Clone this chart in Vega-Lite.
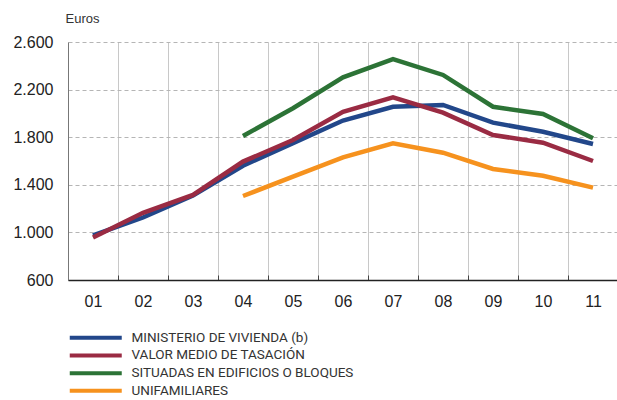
{
  "$schema": "https://vega.github.io/schema/vega-lite/v6.json",
  "width": 550,
  "height": 238,
  "autosize": {"type": "none"},
  "padding": {"left": 68, "top": 42, "right": 0, "bottom": 120},
  "config": {"view": {"stroke": null}, "font": "Liberation Sans"},
  "data": {"values": [
    {"year": "01", "series": "MINISTERIO DE VIVIENDA (b)", "value": 975},
    {"year": "02", "series": "MINISTERIO DE VIVIENDA (b)", "value": 1125},
    {"year": "03", "series": "MINISTERIO DE VIVIENDA (b)", "value": 1310},
    {"year": "04", "series": "MINISTERIO DE VIVIENDA (b)", "value": 1560},
    {"year": "05", "series": "MINISTERIO DE VIVIENDA (b)", "value": 1750},
    {"year": "06", "series": "MINISTERIO DE VIVIENDA (b)", "value": 1940},
    {"year": "07", "series": "MINISTERIO DE VIVIENDA (b)", "value": 2056},
    {"year": "08", "series": "MINISTERIO DE VIVIENDA (b)", "value": 2071},
    {"year": "09", "series": "MINISTERIO DE VIVIENDA (b)", "value": 1922},
    {"year": "10", "series": "MINISTERIO DE VIVIENDA (b)", "value": 1846},
    {"year": "11", "series": "MINISTERIO DE VIVIENDA (b)", "value": 1743},
    {"year": "01", "series": "VALOR MEDIO DE TASACIÓN", "value": 958},
    {"year": "02", "series": "VALOR MEDIO DE TASACIÓN", "value": 1165},
    {"year": "03", "series": "VALOR MEDIO DE TASACIÓN", "value": 1315},
    {"year": "04", "series": "VALOR MEDIO DE TASACIÓN", "value": 1595},
    {"year": "05", "series": "VALOR MEDIO DE TASACIÓN", "value": 1776},
    {"year": "06", "series": "VALOR MEDIO DE TASACIÓN", "value": 2014},
    {"year": "07", "series": "VALOR MEDIO DE TASACIÓN", "value": 2135},
    {"year": "08", "series": "VALOR MEDIO DE TASACIÓN", "value": 2006},
    {"year": "09", "series": "VALOR MEDIO DE TASACIÓN", "value": 1818},
    {"year": "10", "series": "VALOR MEDIO DE TASACIÓN", "value": 1754},
    {"year": "11", "series": "VALOR MEDIO DE TASACIÓN", "value": 1600},
    {"year": "04", "series": "SITUADAS EN EDIFICIOS O BLOQUES", "value": 1810},
    {"year": "05", "series": "SITUADAS EN EDIFICIOS O BLOQUES", "value": 2043},
    {"year": "06", "series": "SITUADAS EN EDIFICIOS O BLOQUES", "value": 2303},
    {"year": "07", "series": "SITUADAS EN EDIFICIOS O BLOQUES", "value": 2457},
    {"year": "08", "series": "SITUADAS EN EDIFICIOS O BLOQUES", "value": 2323},
    {"year": "09", "series": "SITUADAS EN EDIFICIOS O BLOQUES", "value": 2056},
    {"year": "10", "series": "SITUADAS EN EDIFICIOS O BLOQUES", "value": 1995},
    {"year": "11", "series": "SITUADAS EN EDIFICIOS O BLOQUES", "value": 1791},
    {"year": "04", "series": "UNIFAMILIARES", "value": 1306},
    {"year": "05", "series": "UNIFAMILIARES", "value": 1468},
    {"year": "06", "series": "UNIFAMILIARES", "value": 1631},
    {"year": "07", "series": "UNIFAMILIARES", "value": 1749},
    {"year": "08", "series": "UNIFAMILIARES", "value": 1670},
    {"year": "09", "series": "UNIFAMILIARES", "value": 1533},
    {"year": "10", "series": "UNIFAMILIARES", "value": 1476},
    {"year": "11", "series": "UNIFAMILIARES", "value": 1376}
  ]},
  "mark": {"type": "line", "strokeWidth": 4.5},
  "encoding": {
    "x": {
      "field": "year", "type": "ordinal",
      "scale": {"paddingInner": 0, "paddingOuter": 0},
      "axis": {
        "title": null, "labelAngle": 0, "tickBand": "extent",
        "grid": true, "gridColor": "#c8c8c8", "gridWidth": 1,
        "domainColor": "#222", "domainWidth": 1.5,
        "tickColor": "#444", "tickSize": -5, "tickWidth": 1,
        "labelFontSize": 16, "labelColor": "#222", "labelPadding": 18
      }
    },
    "y": {
      "field": "value", "type": "quantitative",
      "scale": {"domain": [600, 2600], "nice": false, "zero": false},
      "axis": {
        "values": [600, 1000, 1400, 1800, 2200, 2600],
        "labelExpr": "replace(format(datum.value, ','), ',', '.')",
        "ticks": false, "domainColor": "#777", "domainWidth": 1,
        "gridDash": [4, 3], "gridColor": "#b5b5b5", "gridWidth": 1,
        "labelFontSize": 16, "labelColor": "#222", "labelPadding": 15,
        "title": "Euros", "titleAngle": 0, "titleAlign": "left", "titleBaseline": "middle",
        "titleX": -3, "titleY": -24, "titleFontSize": 13, "titleFontWeight": "normal", "titleColor": "#333"
      }
    },
    "color": {
      "field": "series", "type": "nominal",
      "scale": {
        "domain": ["MINISTERIO DE VIVIENDA (b)", "VALOR MEDIO DE TASACIÓN", "SITUADAS EN EDIFICIOS O BLOQUES", "UNIFAMILIARES"],
        "range": ["#22478a", "#9a2b43", "#2c7336", "#f6921e"]
      },
      "legend": {
        "title": null, "orient": "none", "legendX": 21, "legendY": 289,
        "symbolType": "M-13,0H13", "symbolSize": 16, "symbolStrokeWidth": 4,
        "labelFont": "Roboto", "labelFontSize": 13.5, "labelColor": "#333",
        "labelOffset": 29, "rowPadding": 0.7, "labelLimit": 400
      }
    }
  }
}
